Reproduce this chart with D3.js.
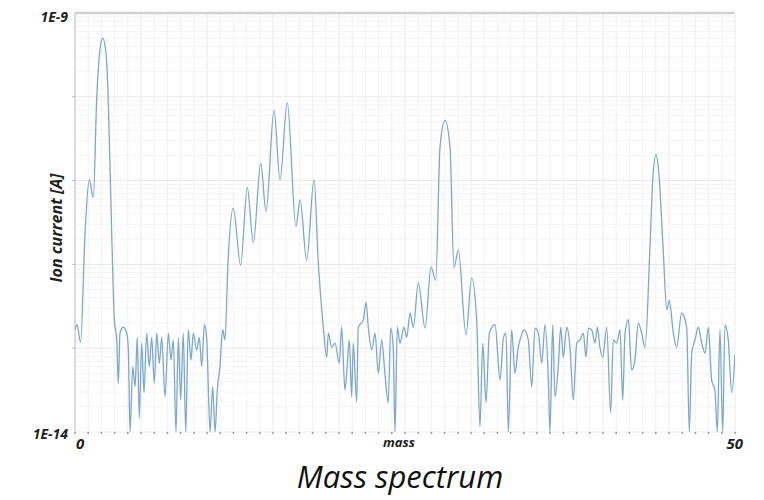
<!DOCTYPE html>
<html>
<head>
<meta charset="utf-8">
<script src="https://cdn.jsdelivr.net/npm/d3@7"></script>
<style>
	body { margin: 0; background: white; }
	text { font-family: "Open Sans", sans-serif; }
</style>
</head>
<body>
<script>
// mass axis positions of the traced points
var mass = [
	0, 0.15, 0.42, 0.76, 1.08, 1.39, 1.64, 1.89, 2.10, 2.35, 2.52, 2.78, 2.98,
	3.16, 3.28, 3.41, 3.66, 3.92, 4.04, 4.17, 4.37, 4.55, 4.72, 4.87, 5.05, 5.23,
	5.43, 5.63, 5.81, 6.01, 6.19, 6.39, 6.57, 6.82, 7.07, 7.27, 7.45, 7.65, 7.83,
	8.01, 8.20, 8.39, 8.58, 8.79, 8.96, 9.22, 9.42, 9.60, 9.80, 9.98, 10.23, 10.43,
	10.61, 10.78, 10.98, 11.19, 11.36, 11.59, 11.99, 12.55, 13.05, 13.51, 14.07,
	14.47, 15.08, 15.53, 16.08, 16.74, 17.05, 17.55, 18.11, 18.43, 18.81, 19.07,
	19.19, 19.45, 19.70, 20.02, 20.20, 20.45, 20.58, 20.78, 20.96, 21.08, 21.34,
	21.46, 21.84, 22.05, 22.22, 22.48, 22.73, 22.98, 23.23, 23.48, 23.73, 23.92,
	24.11, 24.24, 24.42, 24.62, 24.92, 25.13, 25.38, 25.63, 26.01, 26.52, 26.97,
	27.33, 27.65, 28.03, 28.41, 28.71, 29.04, 29.62, 30.05, 30.43, 30.68, 30.89,
	31.14, 31.39, 31.82, 32.20, 32.45, 32.65, 32.83, 33.08, 33.33, 33.58, 33.77,
	34.02, 34.34, 34.60, 34.85, 35.10, 35.36, 35.61, 35.86, 35.98, 36.19, 36.36,
	36.61, 36.80, 36.99, 37.25, 37.50, 37.75, 38.01, 38.26, 38.51, 38.71, 38.89,
	39.14, 39.39, 39.57, 39.77, 39.98, 40.28, 40.58, 40.78, 41.04, 41.29, 41.49,
	41.67, 41.92, 42.17, 42.42, 42.67, 42.93, 43.18, 43.56, 43.79, 44.02, 44.24,
	44.57, 44.83, 45.02, 45.33, 45.58, 45.96, 46.34, 46.54, 46.72, 46.97, 47.22,
	47.48, 47.73, 47.98, 48.23, 48.48, 48.66, 48.86, 49.07, 49.24, 49.49, 49.75, 50
]

// log10 of the ion current in A, one per mass value
var logCurrent = [
	-12.78, -12.72, -12.93, -11.63, -10.99, -11.20, -10.04, -9.44, -9.30, -9.48, -10.04, -11.63, -12.66,
	-12.90, -13.42, -12.82, -12.75, -12.82, -13.02, -14.0, -13.22, -13.46, -12.87, -13.83, -12.94, -13.53,
	-12.82, -13.22, -12.87, -13.42, -12.82, -13.18, -12.87, -13.58, -12.82, -13.14, -12.90, -14.0, -12.87,
	-13.62, -12.82, -14.0, -12.78, -13.14, -12.82, -13.02, -12.87, -13.22, -12.72, -12.90, -14.0, -13.46,
	-14.0, -13.50, -13.22, -12.78, -12.90, -11.98, -11.33, -12.01, -11.08, -11.74, -10.79,
	-11.37, -10.16, -10.99, -10.07, -11.55, -11.23, -11.95, -10.99, -11.98, -12.75, -13.11,
	-12.82, -12.99, -12.94, -13.18, -12.75, -13.50, -13.30, -12.90, -13.58, -12.94, -13.64,
	-12.75, -12.66, -12.45, -12.75, -13.02, -12.82, -13.30, -12.90, -13.30, -13.65, -12.76,
	-12.99, -14.0, -12.75, -12.94, -12.75, -12.87, -12.58, -12.75, -12.22, -12.76, -12.03,
	-12.19, -10.60, -10.28, -10.60, -12.04, -11.83, -12.84, -12.16, -12.66, -13.94, -12.94,
	-13.65, -12.82, -12.72, -13.38, -12.88, -12.82, -14.0, -12.78, -13.30, -12.99, -12.87,
	-12.78, -12.90, -13.46, -12.76, -12.82, -13.18, -12.72, -13.38, -14.0, -12.72, -13.58,
	-13.22, -12.75, -13.11, -12.75, -12.99, -13.62, -12.94, -12.90, -12.82, -13.11, -12.76,
	-12.78, -12.94, -12.75, -12.99, -13.11, -12.75, -13.77, -12.90, -12.94, -12.78, -13.62,
	-12.82, -12.66, -13.26, -13.14, -12.70, -12.82, -12.99, -11.79, -10.93, -10.69, -10.93,
	-11.86, -12.54, -12.43, -12.82, -12.99, -12.58, -12.75, -14.0, -13.06, -12.90, -12.75,
	-12.94, -13.06, -12.75, -13.38, -13.50, -14.0, -12.78, -14.0, -12.72, -12.90, -13.53, -13.08
]

var xTickLabels = ['0', '50']
var yTickLabels = ['1E-9', '1E-14']

var width = 764,
	height = 500

var margin = {top: 13, right: 29, bottom: 68, left: 75},
	w = width - margin.left - margin.right,
	h = height - margin.top - margin.bottom

var svg = d3.select('body').append('svg')
	.attr('width', width)
	.attr('height', height)

var g = svg.append('g')
	.attr('transform', 'translate(' + margin.left + ',' + margin.top + ')')

var x = d3.scaleLinear()
	.domain([0, 50])
	.range([0, w])

var y = d3.scaleLog()
	.domain([1e-14, 1e-9])
	.range([h, 0])

var data = mass.map((m, i) => ({mass: m, current: Math.pow(10, logCurrent[i])}))

// grid: one vertical line per mass unit, log minor lines horizontally
g.append('g')
	.selectAll('line')
	.data(d3.range(1, 50))
	.enter()
	.append('line')
		.attr('x1', d => x(d))
		.attr('x2', d => x(d))
		.attr('y1', 0)
		.attr('y2', h)
		.attr('stroke', d => d % 5 == 0 ? '#ebebeb' : '#f2f2f2')
		.attr('stroke-width', 1)

var decades = d3.range(-14, -9)
var minor = []
decades.forEach(function (e) {
	for (var k = 2; k < 10; k++) minor.push(k * Math.pow(10, e))
})

g.append('g')
	.selectAll('line')
	.data(minor)
	.enter()
	.append('line')
		.attr('x1', 0)
		.attr('x2', w)
		.attr('y1', d => y(d))
		.attr('y2', d => y(d))
		.attr('stroke', '#f4f4f4')

g.append('g')
	.selectAll('line')
	.data(d3.range(-13, -9).map(e => Math.pow(10, e)))
	.enter()
	.append('line')
		.attr('x1', 0)
		.attr('x2', w)
		.attr('y1', d => y(d))
		.attr('y2', d => y(d))
		.attr('stroke', '#e8e8e8')

// frame
g.append('line')
	.attr('x1', 0).attr('x2', w)
	.attr('y1', 0).attr('y2', 0)
	.attr('stroke', '#d2d2d2')
	.attr('stroke-width', 2.5)

g.append('line')
	.attr('x1', w).attr('x2', w)
	.attr('y1', 0).attr('y2', h)
	.attr('stroke', '#ececec')

g.append('line')
	.attr('x1', 0).attr('x2', 0)
	.attr('y1', 0).attr('y2', h)
	.attr('stroke', '#cfcfcf')
	.attr('stroke-width', 1.5)

// left axis small ticks at decades
g.append('g')
	.selectAll('line')
	.data(d3.range(-13, -9).map(e => Math.pow(10, e)))
	.enter()
	.append('line')
		.attr('x1', -3)
		.attr('x2', 0)
		.attr('y1', d => y(d))
		.attr('y2', d => y(d))
		.attr('stroke', '#bbb')

// bottom ticks, one per mass unit
g.append('line')
	.attr('x1', 0).attr('x2', w)
	.attr('y1', h).attr('y2', h)
	.attr('stroke', '#ececec')

g.append('g')
	.selectAll('line')
	.data(d3.range(0, 51))
	.enter()
	.append('line')
		.attr('x1', d => x(d))
		.attr('x2', d => x(d))
		.attr('y1', h)
		.attr('y2', h + 2)
		.attr('stroke', '#9a9a9a')
		.attr('stroke-width', 1.5)

// spectrum trace
g.append('clipPath')
	.attr('id', 'clip')
	.append('rect')
		.attr('width', w)
		.attr('height', h)

var line = d3.line()
	.x(d => x(d.mass))
	.y(d => y(d.current))
	.curve(d3.curveMonotoneX)

g.append('path')
	.datum(data)
	.attr('clip-path', 'url(#clip)')
	.attr('d', line)
	.attr('fill', 'none')
	.attr('stroke', '#7ba7cd')
	.attr('stroke-width', 1.3)

// labels
function boldItalic(sel, size) {
	sel.style('font-size', size + 'px')
		.style('font-weight', 'bold')
		.style('font-style', 'italic')
		.style('fill', '#222')
}

g.append('text')
	.attr('x', -7)
	.attr('y', y(1e-9) + 9)
	.attr('text-anchor', 'end')
	.call(boldItalic, 14)
	.text(yTickLabels[0])

g.append('text')
	.attr('x', -7)
	.attr('y', y(1e-14) + 7)
	.attr('text-anchor', 'end')
	.call(boldItalic, 14)
	.text(yTickLabels[1])

g.append('text')
	.attr('x', x(0) + 1)
	.attr('y', h + 17)
	.attr('text-anchor', 'start')
	.call(boldItalic, 15)
	.text(xTickLabels[0])

g.append('text')
	.attr('x', x(50) + 8)
	.attr('y', h + 17)
	.attr('text-anchor', 'end')
	.call(boldItalic, 15)
	.text(xTickLabels[1])

g.append('text')
	.attr('x', w / 2 - 6)
	.attr('y', h + 15)
	.attr('text-anchor', 'middle')
	.call(boldItalic, 13)
	.text('mass')

svg.append('text')
	.attr('transform', 'translate(62,228) rotate(-90)')
	.attr('text-anchor', 'middle')
	.call(boldItalic, 16)
	.text('Ion current [A]')

svg.append('text')
	.attr('x', 400)
	.attr('y', 488)
	.attr('text-anchor', 'middle')
	.style('font-size', '31px')
	.style('font-style', 'italic')
	.style('fill', '#111')
	.text('Mass spectrum')
</script>
</body>
</html>
